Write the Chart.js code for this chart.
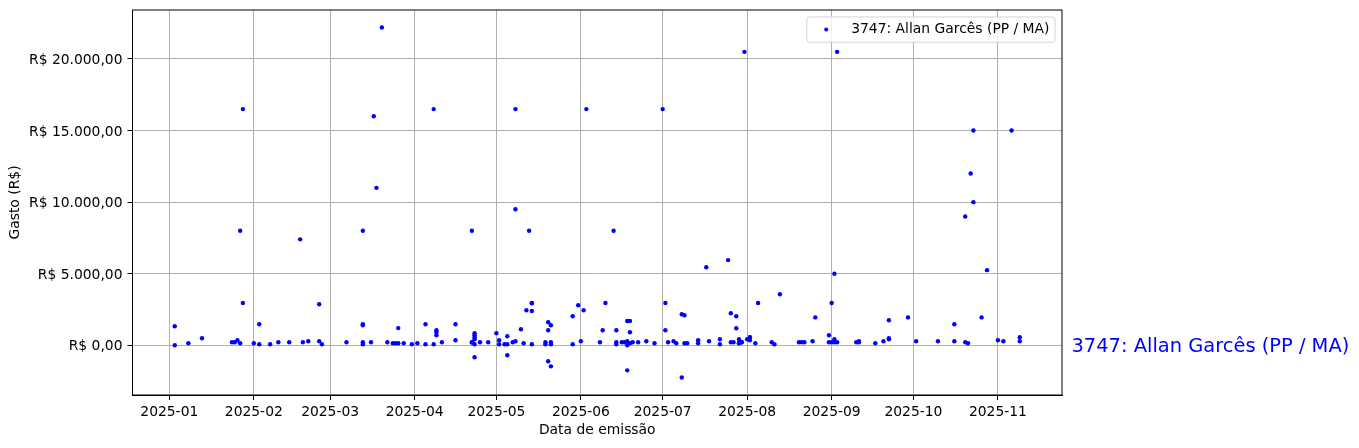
<!DOCTYPE html>
<html>
<head>
<meta charset="utf-8">
<script src="https://cdn.jsdelivr.net/npm/chart.js@4.4.1/dist/chart.umd.min.js"></script>
<style>
  html, body { margin: 0; padding: 0; background: #fff; }
  #wrap { width: 1359px; height: 448px; }
</style>
</head>
<body>
<div id="wrap"><canvas id="c" width="1359" height="448"></canvas></div>
<script>
// ---- data ----
const seriesName = '3747: Allan Garcês (PP / MA)';
const dates = [
  '2025-01-03','2025-01-03','2025-01-08','2025-01-13','2025-01-24','2025-01-25','2025-01-26','2025-01-27','2025-01-27','2025-01-28','2025-01-28',
  '2025-02-01','2025-02-03','2025-02-03','2025-02-07','2025-02-10','2025-02-14','2025-02-18','2025-02-19','2025-02-21','2025-02-25','2025-02-25','2025-02-26',
  '2025-03-07','2025-03-13','2025-03-13','2025-03-13','2025-03-13','2025-03-13','2025-03-16','2025-03-17','2025-03-18','2025-03-20','2025-03-22','2025-03-24','2025-03-25','2025-03-26','2025-03-26','2025-03-28','2025-03-31',
  '2025-04-02','2025-04-05','2025-04-05','2025-04-08','2025-04-08','2025-04-09','2025-04-09','2025-04-09','2025-04-11','2025-04-16','2025-04-16','2025-04-22','2025-04-22','2025-04-22','2025-04-23','2025-04-23','2025-04-23','2025-04-23','2025-04-23','2025-04-23','2025-04-25','2025-04-28',
  '2025-05-01','2025-05-02','2025-05-02','2025-05-04','2025-05-05','2025-05-05','2025-05-05','2025-05-07','2025-05-08','2025-05-08','2025-05-08','2025-05-10','2025-05-11','2025-05-12','2025-05-13','2025-05-14','2025-05-14','2025-05-14','2025-05-14','2025-05-19','2025-05-19','2025-05-20','2025-05-20','2025-05-21','2025-05-21','2025-05-21','2025-05-20','2025-05-21','2025-05-29','2025-05-29','2025-05-31',
  '2025-06-01','2025-06-02','2025-06-03','2025-06-08','2025-06-09','2025-06-10','2025-06-13','2025-06-14','2025-06-14','2025-06-14','2025-06-16','2025-06-17','2025-06-18','2025-06-18','2025-06-18','2025-06-19','2025-06-19','2025-06-19','2025-06-18','2025-06-20','2025-06-22','2025-06-25','2025-06-28',
  '2025-07-01','2025-07-02','2025-07-02','2025-07-03','2025-07-05','2025-07-06','2025-07-08','2025-07-09','2025-07-09','2025-07-10','2025-07-08','2025-07-14','2025-07-14','2025-07-17','2025-07-18','2025-07-22','2025-07-22','2025-07-25','2025-07-26','2025-07-26','2025-07-27','2025-07-28','2025-07-28','2025-07-29','2025-07-29','2025-07-29','2025-07-30','2025-07-30','2025-07-31',
  '2025-08-01','2025-08-02','2025-08-02','2025-08-02','2025-08-04','2025-08-05','2025-08-10','2025-08-11','2025-08-13','2025-08-20','2025-08-21','2025-08-22','2025-08-25','2025-08-26','2025-08-31','2025-08-31',
  '2025-09-01','2025-09-01','2025-09-02','2025-09-02','2025-09-02','2025-09-03','2025-09-03','2025-09-10','2025-09-11','2025-09-11','2025-09-17','2025-09-20','2025-09-22','2025-09-22','2025-09-22','2025-09-29',
  '2025-10-02','2025-10-10','2025-10-16','2025-10-16','2025-10-20','2025-10-20','2025-10-21','2025-10-22','2025-10-23','2025-10-23','2025-10-26','2025-10-28',
  '2025-11-01','2025-11-03','2025-11-06','2025-11-09','2025-11-09'
];
const values = [
  1330,0,140,490,210,210,350,140,8000,16500,2950,
  140,1470,70,70,210,210,7400,210,280,2870,280,70,
  210,8000,1470,1400,210,70,210,16000,11000,22200,210,140,140,1200,140,140,70,
  140,1470,70,16500,70,1050,910,700,210,1470,350,210,200,8000,840,700,560,420,70,-840,210,210,
  840,70,350,70,70,630,-700,210,280,9500,16500,1120,140,2450,8000,2950,2940,2400,70,210,70,1610,1050,1400,210,70,-1120,-1470,2030,70,2800,
  280,2450,16500,210,1050,2950,8000,210,1050,70,210,210,280,0,1700,1700,910,140,-1750,210,210,280,140,
  16500,2950,1050,210,280,140,2170,2100,140,140,-2250,350,140,5450,280,420,70,5950,210,2240,210,2030,1190,420,140,140,210,210,20500,
  420,560,550,350,140,2950,210,70,3570,210,210,210,280,1950,700,210,
  2950,210,5000,420,210,210,20500,210,280,210,140,280,1750,490,420,1950,
  280,280,1470,280,210,9000,140,12000,15000,10000,1950,5250,
  350,280,15000,560,280
];
const monthTickDates = ['2025-01-01','2025-02-01','2025-03-01','2025-04-01','2025-05-01','2025-06-01','2025-07-01','2025-08-01','2025-09-01','2025-10-01','2025-11-01'];
const monthTickLabels = ['2025-01','2025-02','2025-03','2025-04','2025-05','2025-06','2025-07','2025-08','2025-09','2025-10','2025-11'];
const yTickValues = [0, 5000, 10000, 15000, 20000];
const sideLabelValue = 0;

// ---- helpers ----
const EPOCH = Date.UTC(2025, 0, 1);
function dayIndex(s) {
  const [y, m, d] = s.split('-').map(Number);
  return (Date.UTC(y, m - 1, d) - EPOCH) / 86400000;
}
function brl(n) {
  const neg = n < 0;
  let s = Math.abs(n).toFixed(2);
  let [ip, fp] = s.split('.');
  ip = ip.replace(/\B(?=(\d{3})+(?!\d))/g, '.');
  return 'R$ ' + (neg ? '-' : '') + ip + ',' + fp;
}

const xs = dates.map(dayIndex);
const points = xs.map((x, i) => ({ x: x, y: values[i] }));
const xMinD = Math.min(...xs), xMaxD = Math.max(...xs);
const yMinD = Math.min(...values), yMaxD = Math.max(...values);
const xPad = (xMaxD - xMinD) * 0.05, yPad = (yMaxD - yMinD) * 0.05;
const monthTicks = monthTickDates.map(dayIndex);

const FONT = 'DejaVu Sans';
const FS = 13.89;
const BLUE = '#0000ff';

const extras = {
  id: 'extras',
  afterDraw(chart) {
    const { ctx, chartArea: a } = chart;
    const ys = chart.scales.y;
    ctx.save();
    // spines
    ctx.strokeStyle = '#000';
    ctx.lineWidth = 1;
    ctx.strokeRect(a.left, a.top, a.right - a.left, a.bottom - a.top);
    // legend
    ctx.font = FS + 'px "' + FONT + '"';
    const tw = ctx.measureText(seriesName).width;
    const bpad = 0.4 * FS, hlen = 2 * FS, hpad = 0.8 * FS, axpad = 0.5 * FS;
    const w = bpad + hlen + hpad + tw + bpad;
    const h = 2 * bpad + FS * 1.0 + 0.3;
    const right = a.right - axpad, top = a.top + axpad;
    const left = right - w;
    const r = 3;
    ctx.beginPath();
    ctx.moveTo(left + r, top);
    ctx.lineTo(right - r, top);
    ctx.arcTo(right, top, right, top + r, r);
    ctx.lineTo(right, top + h - r);
    ctx.arcTo(right, top + h, right - r, top + h, r);
    ctx.lineTo(left + r, top + h);
    ctx.arcTo(left, top + h, left, top + h - r, r);
    ctx.lineTo(left, top + r);
    ctx.arcTo(left, top, left + r, top, r);
    ctx.closePath();
    ctx.fillStyle = 'rgba(255,255,255,0.8)';
    ctx.fill();
    ctx.strokeStyle = 'rgba(204,204,204,0.8)';
    ctx.lineWidth = 1;
    ctx.stroke();
    const cy = top + h / 2;
    ctx.fillStyle = BLUE;
    ctx.beginPath();
    ctx.arc(left + bpad + hlen / 2, cy, 2, 0, Math.PI * 2);
    ctx.fill();
    ctx.fillStyle = '#000';
    ctx.textBaseline = 'middle';
    ctx.textAlign = 'left';
    ctx.fillText(seriesName, left + bpad + hlen + hpad, cy);
    // side label
    ctx.font = '19.44px "' + FONT + '"';
    ctx.fillStyle = BLUE;
    ctx.fillText(seriesName, a.right + 9.5, ys.getPixelForValue(sideLabelValue) + 1.5);
    ctx.restore();
  }
};

new Chart(document.getElementById('c'), {
  type: 'scatter',
  data: {
    datasets: [{
      label: seriesName,
      data: points,
      backgroundColor: BLUE,
      borderColor: BLUE,
      borderWidth: 0,
      pointRadius: 2.2,
      pointHoverRadius: 2.2
    }]
  },
  options: {
    responsive: false,
    devicePixelRatio: 1,
    animation: false,
    events: [],
    layout: { padding: { top: 10, right: 297, bottom: 0, left: 0 } },
    plugins: { legend: { display: false }, tooltip: { enabled: false } },
    scales: {
      x: {
        type: 'linear',
        min: xMinD - xPad,
        max: xMaxD + xPad,
        afterBuildTicks(scale) { scale.ticks = monthTicks.map(v => ({ value: v })); },
        afterFit(scale) { scale.height = 53; scale.paddingLeft = 0; scale.paddingRight = 0; },
        ticks: {
          autoSkip: false, maxRotation: 0, minRotation: 0,
          color: '#000', padding: 4,
          font: { family: FONT, size: FS },
          callback: (v, i) => monthTickLabels[i]
        },
        grid: { color: '#b0b0b0', lineWidth: 1, tickLength: 5, tickColor: '#000', tickWidth: 1 },
        border: { display: true, color: '#000', width: 1 },
        title: {
          display: true, text: 'Data de emissão', color: '#000',
          font: { family: FONT, size: FS }, padding: { top: 0, bottom: 9 }
        }
      },
      y: {
        type: 'linear',
        min: yMinD - yPad,
        max: yMaxD + yPad,
        afterBuildTicks(scale) { scale.ticks = yTickValues.map(v => ({ value: v })); },
        afterFit(scale) { scale.width = 132.5; scale.paddingTop = 0; scale.paddingBottom = 0; },
        ticks: {
          color: '#000', padding: 5, labelOffset: 1.5,
          font: { family: FONT, size: FS },
          callback: (v) => brl(v)
        },
        grid: { color: '#b0b0b0', lineWidth: 1, tickLength: 5, tickColor: '#000', tickWidth: 1 },
        border: { display: true, color: '#000', width: 1 },
        title: {
          display: true, text: 'Gasto (R$)', color: '#000',
          font: { family: FONT, size: FS }, padding: { top: 7, bottom: 0 }
        }
      }
    }
  },
  plugins: [extras]
});
</script>
</body>
</html>
